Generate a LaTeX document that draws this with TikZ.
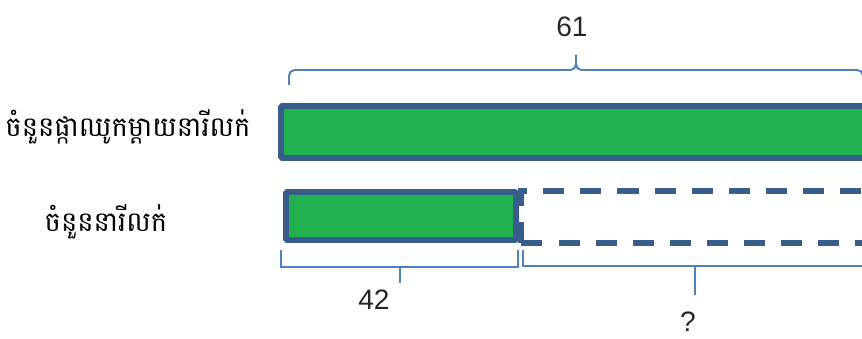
\documentclass[tikz,border=0pt]{standalone}
\usepackage{fontspec}
\setmainfont{Liberation Sans}
\newfontfamily\khmerfont[Script=Khmer]{Battambang}
\usepackage{xcolor}
\usepackage{tikz}
\usetikzlibrary{positioning,calc}
\definecolor{barblue}{RGB}{56,93,138}
\definecolor{bargreen}{RGB}{33,176,79}
\definecolor{brblue}{RGB}{79,129,189}

\begin{document}
\begin{tikzpicture}[
    bar/.style={draw=barblue, fill=bargreen, line width=4.2pt, rounded corners=1pt, inner sep=0pt, outer sep=0pt, minimum height=1.2cm, anchor=west},
    emptybar/.style={draw=barblue, line width=3.6pt, dash pattern=on 15pt off 11.4pt},
    brk/.style={draw=brblue, line width=1.4pt},
    lbl/.style={font=\khmerfont\fontsize{19.5}{23}\selectfont},
    num/.style={font=\fontsize{20}{24}\selectfont, text=black!85, inner sep=0pt},
]
\useasboundingbox (0,0) rectangle (21.55,8.45);
\clip (0,0) rectangle (21.55,8.45);

% labels
\node[lbl] (motherlbl) at (3.2, 5.275) {ចំនួនផ្កាឈូកម្ដាយនារីលក់};
\node[lbl] (nearilbl) at (2.65, 2.9) {ចំនួននារីលក់};

% bars
\node[bar, minimum width=14.975cm, minimum height=1.3cm] (whole) at (7.025, 5.15) {};
\node[bar, minimum width=5.75cm] (part) at (7.15, 3.05) {};
\draw[emptybar] (13.025, 2.375) rectangle (22.2, 3.675);

% top brace
\coordinate (wl) at (7.225, 6.325);
\coordinate (wr) at (21.575, 6.325);
\coordinate (wtip) at (14.4, 7.075);
\draw[brk, rounded corners=4pt] (wl) |- ($(wtip)+(0,-0.375)$) -- (wtip);
\draw[brk, rounded corners=4pt] (wr) |- ($(wtip)+(0,-0.375)$) -- (wtip);
\node[num] (total) at (14.3, 7.775) {61};

% bottom brackets
\coordinate (pl) at (7.025, 2.2);
\coordinate (pr) at (12.95, 2.2);
\coordinate (ptip) at (10.0, 1.375);
\draw[brk] (pl) |- ($(pr)+(0,-0.425)$) -- (pr);
\draw[brk] (ptip) -- (ptip |- 0,1.775);
\node[num] (known) at (9.35, 0.95) {42};

\coordinate (ql) at (13.075, 2.2);
\coordinate (qr) at (21.675, 2.2);
\coordinate (qtip) at (17.375, 1.075);
\draw[brk] (ql) |- ($(qr)+(0,-0.4)$) -- (qr);
\draw[brk] (qtip) -- (qtip |- 0,1.8);
\node[num] (unknown) at (17.2, 0.42) {?};
\end{tikzpicture}
\end{document}
